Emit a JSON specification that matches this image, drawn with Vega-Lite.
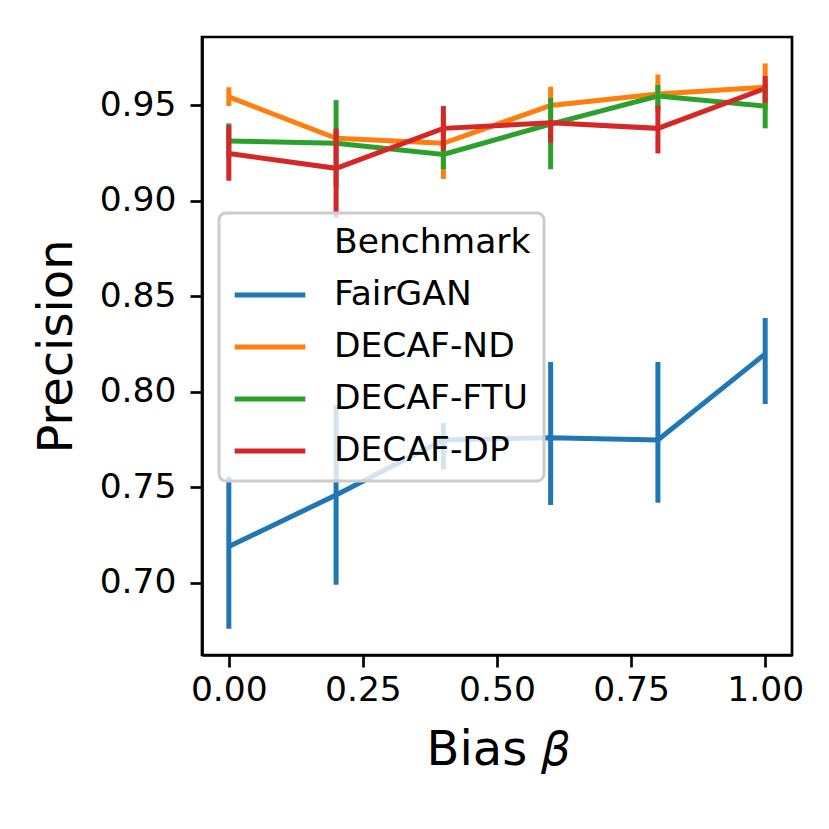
{
  "$schema": "https://vega.github.io/schema/vega-lite/v6.json",
  "width": 590,
  "height": 618,
  "autosize": {"type": "none"},
  "padding": {"left": 202, "top": 37, "right": 37, "bottom": 174},
  "background": "white",
  "config": {
    "view": {"stroke": "black", "strokeWidth": 2.7},
    "font": "DejaVu Sans",
    "axis": {
      "grid": false,
      "domainColor": "black",
      "domainWidth": 2.7,
      "tickColor": "black",
      "tickWidth": 2.7,
      "tickSize": 12,
      "labelFont": "DejaVu Sans",
      "labelFontSize": 34.5,
      "labelColor": "black",
      "titleFont": "DejaVu Sans",
      "titleFontSize": 48,
      "titleFontWeight": "normal",
      "titleColor": "black"
    },
    "legend": {
      "orient": "none",
      "legendX": 17,
      "legendY": 176,
      "padding": 13,
      "fillColor": "rgba(255,255,255,0.8)",
      "strokeColor": "#cccccc",
      "strokeWidth": 3,
      "cornerRadius": 7,
      "labelFont": "DejaVu Sans",
      "labelFontSize": 34.5,
      "labelColor": "black",
      "labelLimit": 400,
      "symbolType": "stroke",
      "symbolStrokeWidth": 5,
      "symbolSize": 5000,
      "labelOffset": 26,
      "clipHeight": 34,
      "rowPadding": 17
    }
  },
  "data": {
    "values": [
      {"beta": 0.0, "model": "FairGAN", "mean": 0.719, "lo": 0.676, "hi": 0.7556},
      {"beta": 0.2, "model": "FairGAN", "mean": 0.746, "lo": 0.699, "hi": 0.793},
      {"beta": 0.4, "model": "FairGAN", "mean": 0.7748, "lo": 0.7595, "hi": 0.7837},
      {"beta": 0.6, "model": "FairGAN", "mean": 0.776, "lo": 0.7408, "hi": 0.8156},
      {"beta": 0.8, "model": "FairGAN", "mean": 0.7748, "lo": 0.742, "hi": 0.8156},
      {"beta": 1.0, "model": "FairGAN", "mean": 0.8198, "lo": 0.7936, "hi": 0.8386},
      {"beta": 0.0, "model": "DECAF-ND", "mean": 0.9543, "lo": 0.9495, "hi": 0.9593},
      {"beta": 0.2, "model": "DECAF-ND", "mean": 0.9326, "lo": 0.928, "hi": 0.937},
      {"beta": 0.4, "model": "DECAF-ND", "mean": 0.930, "lo": 0.9113, "hi": 0.945},
      {"beta": 0.6, "model": "DECAF-ND", "mean": 0.9498, "lo": 0.940, "hi": 0.9596},
      {"beta": 0.8, "model": "DECAF-ND", "mean": 0.9558, "lo": 0.946, "hi": 0.966},
      {"beta": 1.0, "model": "DECAF-ND", "mean": 0.9593, "lo": 0.947, "hi": 0.9718},
      {"beta": 0.0, "model": "DECAF-FTU", "mean": 0.9312, "lo": 0.922, "hi": 0.9404},
      {"beta": 0.2, "model": "DECAF-FTU", "mean": 0.930, "lo": 0.907, "hi": 0.9526},
      {"beta": 0.4, "model": "DECAF-FTU", "mean": 0.9242, "lo": 0.9165, "hi": 0.932},
      {"beta": 0.6, "model": "DECAF-FTU", "mean": 0.940, "lo": 0.9164, "hi": 0.9538},
      {"beta": 0.8, "model": "DECAF-FTU", "mean": 0.9547, "lo": 0.948, "hi": 0.9605},
      {"beta": 1.0, "model": "DECAF-FTU", "mean": 0.9495, "lo": 0.9378, "hi": 0.961},
      {"beta": 0.0, "model": "DECAF-DP", "mean": 0.9247, "lo": 0.9104, "hi": 0.9395},
      {"beta": 0.2, "model": "DECAF-DP", "mean": 0.9169, "lo": 0.891, "hi": 0.9378},
      {"beta": 0.4, "model": "DECAF-DP", "mean": 0.9378, "lo": 0.926, "hi": 0.9495},
      {"beta": 0.6, "model": "DECAF-DP", "mean": 0.9407, "lo": 0.9303, "hi": 0.9422},
      {"beta": 0.8, "model": "DECAF-DP", "mean": 0.9378, "lo": 0.9247, "hi": 0.9495},
      {"beta": 1.0, "model": "DECAF-DP", "mean": 0.9587, "lo": 0.9512, "hi": 0.9652}
    ]
  },
  "encoding": {
    "x": {
      "field": "beta",
      "type": "quantitative",
      "scale": {"domain": [-0.05, 1.05], "nice": false, "zero": false},
      "axis": {"values": [0, 0.25, 0.5, 0.75, 1], "format": ".2f", "title": "Bias 𝛽", "labelPadding": 6, "titlePadding": 20}
    },
    "color": {
      "field": "model",
      "type": "nominal",
      "scale": {
        "domain": ["Benchmark", "FairGAN", "DECAF-ND", "DECAF-FTU", "DECAF-DP"],
        "range": ["rgba(0,0,0,0)", "#1f77b4", "#ff7f0e", "#2ca02c", "#d62728"]
      },
      "legend": {"title": null}
    }
  },
  "layer": [
    {
      "mark": {"type": "line", "strokeWidth": 5},
      "encoding": {
        "y": {
          "field": "mean",
          "type": "quantitative",
          "scale": {"domain": [0.6623, 0.9856], "nice": false, "zero": false},
          "axis": {"values": [0.7, 0.75, 0.8, 0.85, 0.9, 0.95], "format": ".2f", "title": "Precision", "labelPadding": 14, "titlePadding": 18}
        }
      }
    },
    {
      "mark": {"type": "rule", "strokeWidth": 5},
      "encoding": {
        "y": {"field": "lo", "type": "quantitative"},
        "y2": {"field": "hi"}
      }
    }
  ]
}
